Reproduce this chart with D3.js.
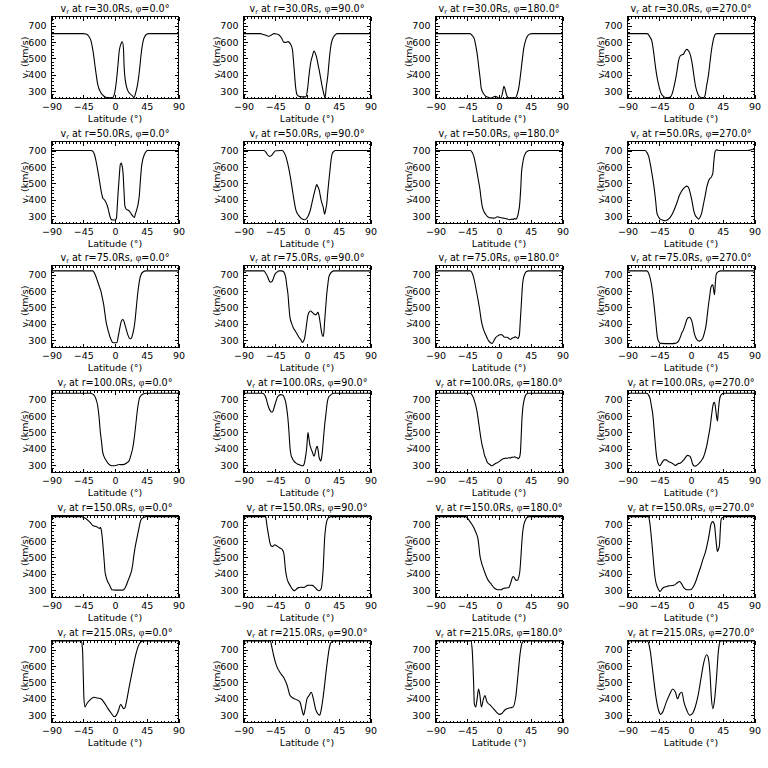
<!DOCTYPE html>
<html><head><meta charset="utf-8">
<script src="https://cdn.jsdelivr.net/npm/d3@7"></script>
<style>body{margin:0;background:#fff}svg{display:block}</style>
</head><body>
<svg id="c" width="768" height="768"></svg>
<script>
const radii = ["30.0","50.0","75.0","100.0","150.0","215.0"];
const phis = ["0.0","90.0","180.0","270.0"];
const xTicks = [-90,-45,0,45,90];
const yTicks = [300,400,500,600,700];

const r30_phi0 = [[-90,652],[-45,652],[-41,650],[-37,635],[-34,608],[-31,540],[-28,444],[-24.5,341],[-20,290],[-16,270],[-13,263],[-8,260],[-3,261],[-1,280],[1.4,341],[4,450],[6,546],[8.5,590],[10.5,602],[12,560],[13,444],[15.6,341],[18,305],[20,290],[25,270],[27,260],[29,285],[32,341],[35,440],[37,526],[40.6,618],[43,640],[45,649],[48,652],[90,652]];
const r30_phi90 = [[-90,652],[-66,652],[-63,648],[-58,642],[-54,636],[-50,645],[-47,652],[-43,650],[-40,645],[-36,625],[-33,600],[-30,598],[-27,603],[-23,585],[-20.7,556],[-18.4,444],[-16,320],[-13.7,275],[-11,268],[-8,266],[-4,265],[-1.6,266],[1,320],[3,403],[5.5,480],[7.6,515],[10,546],[12,530],[13.7,505],[16,455],[18.4,403],[21,340],[24,280],[25.4,259],[27.5,330],[29.7,403],[31.5,490],[33.5,567],[35.5,610],[37.2,628],[40,645],[42.9,652],[90,652]];
const r30_phi180 = [[-90,652],[-41,652],[-38,640],[-35,620],[-33.3,587],[-31,530],[-28.6,444],[-26.5,370],[-25.3,320],[-22,285],[-19,269],[-15,262],[-12,257],[-8.3,263],[-5,268],[-2,262],[0,258],[3,260],[5,290],[7,330],[9,305],[10.5,280],[12,265],[14,259],[23.4,259],[26,285],[28,320],[30.5,400],[32.8,485],[35,560],[37.5,608],[40,635],[43.7,650],[47,652],[90,652]];
const r30_phi270 = [[-90,652],[-62.6,652],[-60,645],[-58,630],[-55.5,608],[-53,540],[-50.8,464],[-48.5,395],[-46,341],[-43.5,300],[-41.5,280],[-38,265],[-34,259],[-30,262],[-27,280],[-24.5,320],[-22.4,362],[-20,420],[-17.7,485],[-15.4,515],[-13,522],[-10.6,526],[-8.3,546],[-5.9,556],[-4,550],[-2,536],[1,485],[3,430],[4.5,382],[6.5,330],[8.3,300],[10.5,275],[13,263],[16.8,259],[18.5,262],[20,275],[22,330],[24.9,403],[27,480],[29.6,567],[32,620],[34.4,649],[37,652],[90,652]];

const r50_phi0 = [[-90,702],[-34,702],[-31,695],[-29,676],[-27,640],[-24.6,585],[-22.5,530],[-20.8,484],[-19,440],[-17.5,413],[-15,400],[-12.8,383],[-11,365],[-9.5,342],[-7.5,305],[-5.7,282],[-3.3,276],[0,276],[2,285],[3.5,380],[4.7,464],[6,540],[7.5,615],[9,625],[10,610],[11.4,565],[12.7,460],[14,363],[16,342],[18,338],[20,332],[22.5,318],[25,302],[27.4,292],[29,315],[31,342],[33,380],[34.4,423],[36,520],[37.7,605],[39.5,650],[41.5,676],[44,695],[46,702],[90,702]];
const r50_phi90 = [[-90,702],[-61,702],[-58,690],[-56,676],[-54,668],[-52.4,666],[-50.5,670],[-49,678],[-47,690],[-44.4,700],[-35,702],[-32.5,690],[-30,666],[-27.5,625],[-25.5,585],[-23,525],[-20.8,464],[-18.5,400],[-16,342],[-13.5,315],[-11.3,302],[-9,290],[-6.6,282],[-3.3,278],[-1.5,282],[0.5,292],[3,315],[5,342],[7.5,390],[9.8,433],[12,470],[13.7,494],[15,485],[17,464],[20.3,393],[23,353],[25,312],[26.5,340],[27.9,373],[29.5,450],[31.2,524],[33,600],[34.5,656],[36,685],[38,696],[40,702],[90,702]];
const r50_phi180 = [[-90,702],[-40.4,702],[-38,690],[-35.7,666],[-33.3,620],[-31,565],[-29,515],[-27,464],[-25.5,410],[-23.9,363],[-21.5,330],[-19,312],[-16.5,298],[-14.4,292],[-10,289],[-7.3,288],[-5,290],[-2.6,296],[0,293],[3,290],[6,288],[9,286],[12,282],[14,278],[16.5,280],[18.6,282],[20.5,280],[22,286],[24,282],[25.7,292],[27.5,320],[29.5,383],[30.8,470],[31.9,565],[33.5,620],[35,656],[37.5,685],[39.9,696],[43,702],[90,702]];
const r50_phi270 = [[-90,702],[-65,702],[-62.5,690],[-60,666],[-57.5,615],[-55.5,565],[-53.5,510],[-52,464],[-50,390],[-48.4,322],[-46,295],[-43.7,282],[-40,275],[-36.6,272],[-33,278],[-29.5,292],[-26,318],[-22.5,353],[-19.5,388],[-16.8,423],[-14,448],[-11.6,464],[-8.5,478],[-6,484],[-3.5,475],[-1.2,443],[1.5,390],[3.5,342],[6,305],[8.3,292],[10.6,282],[13,295],[15.3,322],[17.5,370],[20,423],[22.5,480],[24.8,514],[26.5,530],[28,534],[29.5,545],[31,565],[32.5,640],[34.2,696],[36.6,706],[40,702],[80,702],[84,704],[86,708],[88,710],[90,706]];

const r75_phi0 = [[-90,724],[-31.6,724],[-28,700],[-24.6,659],[-22,625],[-19.9,598],[-18,560],[-16,517],[-14.5,470],[-12.8,416],[-11,380],[-9.5,355],[-7.5,325],[-5.7,304],[-3.3,286],[0,284],[2.8,286],[4.5,320],[6,355],[8,400],[9.4,420],[11.3,426],[12.5,418],[14,395],[16,365],[18,335],[20,315],[21.7,308],[23.5,315],[25,335],[26.8,370],[28.3,416],[30,490],[32,578],[33.8,640],[35.4,680],[37.3,705],[39.2,716],[43.9,724],[90,724]];
const r75_phi90 = [[-90,724],[-61,724],[-58.5,710],[-56,690],[-54,668],[-52.4,655],[-49.6,659],[-47.5,680],[-45.8,700],[-43,715],[-39.6,724],[-36,724],[-33.5,720],[-31.5,705],[-30,680],[-28.5,630],[-26.9,578],[-25.5,500],[-24,436],[-21.5,400],[-19.3,375],[-16.5,355],[-13.7,335],[-11,315],[-8.9,304],[-6.6,286],[-4.8,295],[-3.3,314],[-2,350],[-0.5,400],[1,445],[2.8,470],[5.2,478],[8,468],[10.5,458],[12.5,455],[15.6,470],[17.5,440],[19.5,380],[21,340],[22.7,322],[24,350],[25,416],[26.5,500],[27.9,578],[29.5,640],[31.2,690],[33.5,710],[35.9,720],[38,724],[90,724]];
const r75_phi180 = [[-90,724],[-40.4,724],[-38,710],[-35.7,680],[-33.3,630],[-31,578],[-29,530],[-27,477],[-25.5,430],[-23.9,395],[-21.5,360],[-19,335],[-16.5,310],[-14.4,294],[-12,284],[-9.7,280],[-7.5,295],[-5,314],[-2.5,325],[-0.3,330],[3,335],[5.5,328],[7.8,318],[11.6,318],[14,310],[16.3,304],[18,310],[20,314],[23.4,320],[25,316],[26.7,310],[28,318],[29,335],[30.2,420],[31.9,538],[33,620],[34.2,670],[36.5,705],[39,720],[42,724],[90,724]];
const r75_phi270 = [[-90,724],[-62.6,724],[-60,710],[-57.9,680],[-56,640],[-54,578],[-52,500],[-50,416],[-48.8,360],[-47.5,314],[-45.5,290],[-43.7,280],[-35,279],[-28,279],[-22.5,280],[-20,285],[-17.7,294],[-15,320],[-13,345],[-11,360],[-9.7,375],[-7.8,400],[-5.9,426],[-4,437],[-2.6,440],[-1,436],[1.2,416],[3,380],[4.5,345],[6.5,318],[8.3,304],[10,296],[12,294],[14.5,300],[16.8,314],[19,345],[21.5,395],[23,450],[24.8,517],[26.5,570],[28,619],[29.5,635],[31,639],[32,610],[33.3,578],[34.5,650],[35.6,700],[37.5,715],[39,720],[42,724],[90,724]];

const r100_phi0 = [[-90,740],[-34,740],[-31.5,735],[-29.3,726],[-27,705],[-24.6,665],[-22.5,590],[-20.8,503],[-19,440],[-17.5,381],[-15.8,355],[-14.2,341],[-12,325],[-10.4,314],[-6.6,300],[-3.3,296],[1.4,298],[6,304],[10.8,303],[15.6,310],[18,318],[20.3,330],[22.5,360],[25,402],[26.8,450],[28.3,503],[30,570],[32,645],[34.4,706],[36,722],[37.7,730],[40,736],[43.9,740],[90,740]];
const r100_phi90 = [[-90,740],[-63.3,740],[-61,735],[-58.5,716],[-56.8,690],[-55.2,665],[-52.4,635],[-50.5,625],[-49,625],[-47.5,640],[-45.8,665],[-44,690],[-42,716],[-39.5,728],[-37.3,732],[-35,730],[-33.5,726],[-31.5,705],[-30.2,686],[-28.5,640],[-27,584],[-25.5,500],[-24,402],[-22.5,360],[-20.8,341],[-18.5,325],[-16,314],[-13,306],[-11.3,304],[-8.5,298],[-6.6,296],[-4.5,302],[-3.3,320],[-1.8,360],[-0.5,402],[0.5,460],[1.4,500],[2.5,470],[4.2,422],[5.8,400],[7.5,381],[9.9,355],[11,365],[12.3,391],[13.5,410],[14.6,415],[15.8,390],[17,351],[18.2,335],[19.4,325],[20.5,340],[21.7,381],[23.3,460],[25,544],[27,620],[28.8,686],[30.5,715],[32.6,726],[35,735],[38.3,740],[90,740]];
const r100_phi180 = [[-90,740],[-40.4,740],[-38,728],[-35.7,706],[-33.3,670],[-31,625],[-29,565],[-27,503],[-25.5,460],[-23.9,422],[-22,390],[-20.6,361],[-18.5,340],[-16.8,320],[-15,310],[-13,304],[-11.5,298],[-9.7,296],[-7.5,302],[-5,310],[-2.5,315],[-0.3,320],[2,328],[4.5,336],[7,340],[9.2,343],[11.5,342],[13.9,345],[16,344],[18.6,349],[20.5,348],[22.4,351],[24,346],[25.7,345],[27,340],[28,342],[29.2,350],[30.4,381],[31.3,460],[32.3,564],[33.5,640],[35,686],[37,720],[39,736],[42,740],[90,740]];
const r100_phi270 = [[-90,740],[-62.6,740],[-60,728],[-57.9,706],[-56,660],[-54,605],[-52.5,530],[-50.8,442],[-49.5,380],[-48.4,341],[-46.5,310],[-44.6,296],[-42.5,305],[-40.5,320],[-38,332],[-35.2,332],[-32,322],[-29.5,318],[-27,312],[-24.8,306],[-22.5,298],[-20.5,302],[-18,310],[-15.4,312],[-12.5,322],[-9.7,335],[-7,352],[-5,360],[-3,358],[-1.2,352],[0.5,335],[2,310],[3.5,298],[5.5,294],[7.3,296],[10,305],[13,318],[15.5,333],[17.7,350],[20,380],[22.4,420],[24.5,470],[27,530],[29,600],[30.9,660],[32,680],[33.3,685],[34.5,660],[35.6,620],[36.5,590],[37.5,570],[38.5,620],[40.4,700],[42,725],[43.7,735],[46,740],[90,740]];

const r150_phi0 = [[-90,750],[-48,750],[-44,745],[-41,737],[-38.5,728],[-36.4,720],[-34,708],[-31.6,696],[-29,692],[-27,690],[-25,686],[-23.2,680],[-21.5,678],[-20.8,684],[-19.5,670],[-18.5,639],[-17.2,580],[-16,516],[-15,460],[-14.2,414],[-12.8,385],[-11.4,363],[-9.5,345],[-8,333],[-6,315],[-4.3,302],[0,300],[5,300],[10.8,300],[12.5,304],[14,312],[16,330],[18,353],[20,375],[21.7,394],[23.5,420],[25,455],[26.5,505],[28.3,557],[30,595],[32,639],[34,680],[35.9,720],[38,738],[40.6,745],[44,750],[90,750]];
const r150_phi90 = [[-90,750],[-58.5,750],[-57.5,720],[-56.2,680],[-55,648],[-53.8,618],[-52.5,590],[-51.5,575],[-50,568],[-49,567],[-47.5,572],[-45.8,578],[-43,572],[-39.6,561],[-37,555],[-35,547],[-33.5,535],[-32.5,516],[-31.3,460],[-30.2,414],[-29,385],[-27.8,363],[-25.5,340],[-23.1,322],[-21,308],[-18.4,296],[-16,302],[-13.7,312],[-11,316],[-9,318],[-6.5,317],[-4.2,316],[-2,322],[0.5,329],[4,330],[7.6,329],[10,322],[12.3,312],[14.5,302],[17,296],[18.8,300],[20.3,312],[21.5,350],[23,435],[24,530],[25,618],[26.5,685],[27.9,720],[29.5,738],[31.2,745],[34,750],[90,750]];
const r150_phi180 = [[-90,750],[-47.5,750],[-45,742],[-42.8,730],[-40.5,716],[-38,700],[-35.5,680],[-33.3,659],[-31.5,640],[-30,618],[-28.5,570],[-27.2,516],[-25.5,480],[-23.9,455],[-22,432],[-20.6,414],[-18.5,390],[-16.8,373],[-14.5,355],[-12,343],[-9.5,328],[-7.3,316],[-4,306],[-0.3,302],[3,302],[6.8,312],[10,313],[13.9,316],[15.5,330],[17.2,353],[18.5,372],[20,384],[21.5,378],[23.4,363],[25,360],[26.7,363],[28,380],[29.5,414],[31,500],[32.8,618],[34,670],[35.2,700],[37.5,730],[39.9,745],[43,750],[90,750]];
const r150_phi270 = [[-90,750],[-60.2,750],[-59,730],[-57,659],[-55.5,590],[-54,516],[-52.5,440],[-50.8,373],[-49,335],[-47,312],[-45,297],[-43.7,292],[-41.5,305],[-39,316],[-36.5,320],[-34.3,322],[-32,326],[-29.5,327],[-27,328],[-24.8,329],[-22.5,334],[-20,343],[-18,350],[-16.3,353],[-14.5,346],[-13,337],[-11.5,324],[-9.7,312],[-7.5,305],[-5.9,302],[-1.2,302],[1.5,310],[3.5,322],[6,345],[8.3,373],[11,408],[13.9,445],[17,490],[20,527],[22.5,570],[24.8,618],[26.5,660],[28,700],[29.5,715],[31,720],[32.2,712],[33.3,700],[34.5,650],[35.6,598],[36.5,560],[37.5,537],[38.5,545],[40.4,578],[41.3,650],[42.3,720],[43.5,740],[45,745],[48,750],[90,750]];

const r215_phi0 = [[-90,755],[-48,755],[-46,700],[-45,550],[-44,400],[-42.5,350],[-40,370],[-35,395],[-30,410],[-25,405],[-20,400],[-15,375],[-10,340],[-5,310],[-1,290],[2,300],[5,330],[8,365],[10,355],[12,340],[14,345],[17,400],[20,470],[25,580],[30,680],[35,740],[40,755],[90,755]];
const r215_phi90 = [[-90,755],[-52,755],[-50,720],[-47,660],[-43,600],[-38,560],[-33,530],[-28,480],[-24,420],[-20,405],[-15,395],[-10,380],[-7,330],[-5,300],[-3,330],[0,400],[3,420],[6,440],[9,400],[12,340],[15,310],[18,300],[20,330],[24,450],[28,600],[32,720],[35,750],[38,755],[90,755]];
const r215_phi180 = [[-90,755],[-40,755],[-38,700],[-36,500],[-35,370],[-33,350],[-31,400],[-29,460],[-27,420],[-25,350],[-22,400],[-20,420],[-17,380],[-12,360],[-8,340],[-4,320],[0,305],[4,310],[8,330],[12,340],[16,345],[20,350],[24,420],[27,550],[30,680],[33,745],[36,755],[90,755]];
const r215_phi270 = [[-90,755],[-62,755],[-58,700],[-54,560],[-50,420],[-46,330],[-43,305],[-40,320],[-35,380],[-30,430],[-26,460],[-22,440],[-19,400],[-16,430],[-13,440],[-10,380],[-6,330],[-2,300],[2,310],[6,350],[10,420],[14,520],[18,620],[22,670],[24,660],[27,550],[29,400],[31,340],[33,380],[36,520],[39,700],[42,755],[90,755]];

const panels = [
  [r30_phi0, r30_phi90, r30_phi180, r30_phi270],
  [r50_phi0, r50_phi90, r50_phi180, r50_phi270],
  [r75_phi0, r75_phi90, r75_phi180, r75_phi270],
  [r100_phi0, r100_phi90, r100_phi180, r100_phi270],
  [r150_phi0, r150_phi90, r150_phi180, r150_phi270],
  [r215_phi0, r215_phi90, r215_phi180, r215_phi270]
];

const colLeft0 = 50.5, colPitch = 192.3, plotW = 127;
const rowTop0 = 16, rowPitch = 124.7, plotH = 82;
const yDomain = [255, 757];
const FONT = "'DejaVu Sans', 'Liberation Sans', sans-serif";

const svg = d3.select("#c");
svg.append("rect").attr("width",768).attr("height",768).attr("fill","#fff");

panels.forEach((row, ri) => row.forEach((data, ci) => {
  const left = Math.round(colLeft0 + ci*colPitch) + 0.5;
  const top = Math.round(rowTop0 + ri*rowPitch) + 0.5;
  const x = d3.scaleLinear().domain([-90, 90]).range([left, left + plotW]);
  const y = d3.scaleLinear().domain(yDomain).range([top + plotH, top]);
  const g = svg.append("g").attr("font-family", FONT);
  const cid = `clip${ri}_${ci}`;
  g.append("clipPath").attr("id", cid).append("rect")
    .attr("x", left).attr("y", top).attr("width", plotW).attr("height", plotH);

  const minorX = d3.range(-90, 91, 5);
  const minorY = d3.range(260, 757, 20);

  const addAxis = (axis, tf, labels) => {
    const a = g.append("g").attr("transform", tf).call(axis);
    a.select(".domain").remove();
    a.selectAll("line").attr("stroke", "#000").attr("stroke-width", 1).attr("shape-rendering", "crispEdges");
    if (!labels) a.selectAll("text").remove();
    else a.selectAll("text").attr("font-size", 9.5).attr("fill", "#000").attr("font-family", FONT);
    return a;
  };
  const fmtX = d => d < 0 ? "\u2212" + Math.abs(d) : String(d);
  addAxis(d3.axisBottom(x).tickValues(xTicks).tickSize(-4).tickPadding(5).tickFormat(fmtX), `translate(0,${top+plotH})`, true);
  addAxis(d3.axisBottom(x).tickValues(minorX).tickSize(-2).tickFormat(""), `translate(0,${top+plotH})`, false);
  addAxis(d3.axisTop(x).tickValues(xTicks).tickSize(-4).tickFormat(""), `translate(0,${top})`, false);
  addAxis(d3.axisTop(x).tickValues(minorX).tickSize(-2).tickFormat(""), `translate(0,${top})`, false);
  addAxis(d3.axisLeft(y).tickValues(yTicks).tickSize(-4).tickPadding(5).tickFormat(d3.format("d")), `translate(${left},0)`, true);
  addAxis(d3.axisLeft(y).tickValues(minorY).tickSize(-2).tickFormat(""), `translate(${left},0)`, false);
  addAxis(d3.axisRight(y).tickValues(yTicks).tickSize(-4).tickFormat(""), `translate(${left+plotW},0)`, false);
  addAxis(d3.axisRight(y).tickValues(minorY).tickSize(-2).tickFormat(""), `translate(${left+plotW},0)`, false);

  g.append("rect").attr("x", left).attr("y", top).attr("width", plotW).attr("height", plotH)
    .attr("fill", "none").attr("stroke", "#000").attr("stroke-width", 1).attr("shape-rendering", "crispEdges");

  const line = d3.line().x(d => x(d[0])).y(d => y(d[1])).curve(d3.curveMonotoneX);
  g.append("path").datum(data).attr("d", line).attr("fill", "none")
    .attr("stroke", "#000").attr("stroke-width", 1.1).attr("clip-path", `url(#${cid})`);

  const cx = left + plotW/2;
  const t = g.append("text").attr("x", cx).attr("y", top - 5).attr("text-anchor", "middle")
    .attr("font-size", 9.6).attr("fill", "#000");
  t.append("tspan").text("v");
  t.append("tspan").attr("font-size", 6.5).attr("dy", 2).text("r");
  t.append("tspan").attr("dy", -2).text(` at r=${radii[ri]}Rs, `);
  t.append("tspan").attr("font-family", "'Liberation Serif', 'DejaVu Serif', serif").attr("fill", "#000").text("\u03C6");
  t.append("tspan").text(`=${phis[ci]}\u00B0`);

  g.append("text").attr("x", cx).attr("y", top + plotH + 23).attr("text-anchor", "middle")
    .attr("font-size", 9.5).attr("fill", "#000").text("Latitude (\u00B0)");

  const yl = g.append("text").attr("transform", `translate(${left - 24},${top + plotH/2}) rotate(-90)`)
    .attr("text-anchor", "middle").attr("font-size", 9.5).attr("fill", "#000");
  yl.append("tspan").text("v");
  yl.append("tspan").attr("font-size", 7).attr("dy", 2).text("r");
  yl.append("tspan").attr("dy", -2).text(" (km/s)");
}));
</script>
</body></html>
